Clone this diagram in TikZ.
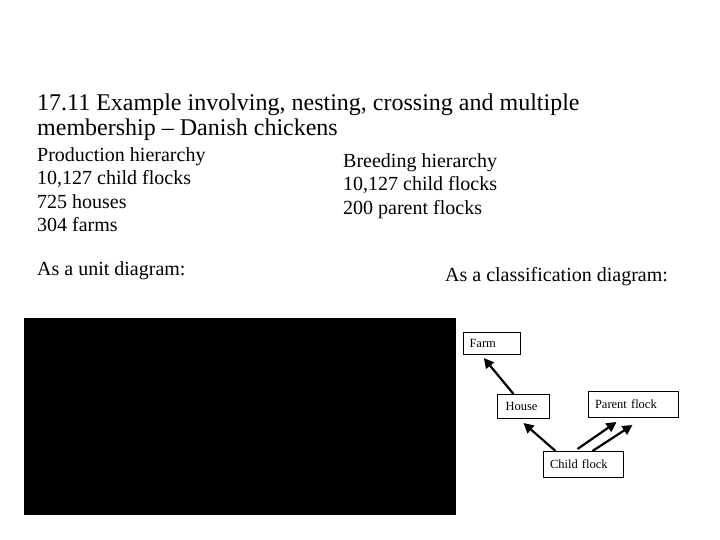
\documentclass[tikz,border=0pt]{standalone}
\usepackage{fontspec}
\setmainfont{Liberation Serif}
\usetikzlibrary{arrows.meta}
\tikzset{
  txt/.style={anchor=base west, inner sep=0pt},
  ttl/.style={txt, font=\fontsize{24}{28}\selectfont},
  body/.style={txt, font=\fontsize{20}{24}\selectfont},
  cbox/.style={draw, line width=1pt, anchor=north west, inner xsep=6.5pt, inner ysep=0pt,
     align=left, font=\fontsize{12.5}{14}\selectfont},
  arr/.style={line width=2.2pt, -{Triangle[length=10pt,width=10pt]}}
}
\begin{document}
\begin{tikzpicture}[x=1pt,y=-1pt]
\useasboundingbox (0,0) rectangle (720,540);
% title
\node[ttl] (t1) at (37,111) {17.11 Example involving, nesting, crossing and multiple};
\node[ttl] (t2) at (37,136) {membership -- Danish chickens};
% production hierarchy
\node[body] (p1) at (37,161.5) {Production hierarchy};
\node[body] (p2) at (37,185) {10,127 child flocks};
\node[body] (p3) at (37,208.5) {725 houses};
\node[body] (p4) at (37,232) {304 farms};
% breeding hierarchy
\node[body] (b1) at (343,167.5) {Breeding hierarchy};
\node[body] (b2) at (343,191) {10,127 child flocks};
\node[body] (b3) at (343,214.5) {200 parent flocks};
% captions
\node[body] (u) at (37,275.5) {As a unit diagram:};
\node[body] (c) at (445,281.5) {As a classification diagram:};
% black area
\fill[black] (24,318) rectangle (456,515);
% classification diagram
\node[cbox, minimum width=57.5pt, text width=44.5pt, minimum height=22pt] (farm) at (462.5,332) {Farm};
\node[cbox, minimum width=52pt, minimum height=24pt, inner xsep=8pt, text width=36pt] (house) at (497,394) {House};
\node[cbox, minimum width=90pt, text width=77pt, minimum height=26pt] (parent) at (588,391) {Parent flock};
\node[cbox, minimum width=80pt, text width=67pt, minimum height=26pt] (child) at (543,451) {Child flock};
\draw[arr] ([xshift=-10pt]house.north) -- ([xshift=-8pt,yshift=-3pt]farm.south);
\draw[arr] ([xshift=-28pt]child.north) -- ([yshift=-4pt]house.south);
\draw[arr] ([xshift=-6pt,yshift=2pt]child.north) -- ([xshift=-17pt,yshift=-4pt]parent.south);
\draw[arr] ([xshift=9pt]child.north) -- ([xshift=-1pt,yshift=-7pt]parent.south);
\end{tikzpicture}
\end{document}
